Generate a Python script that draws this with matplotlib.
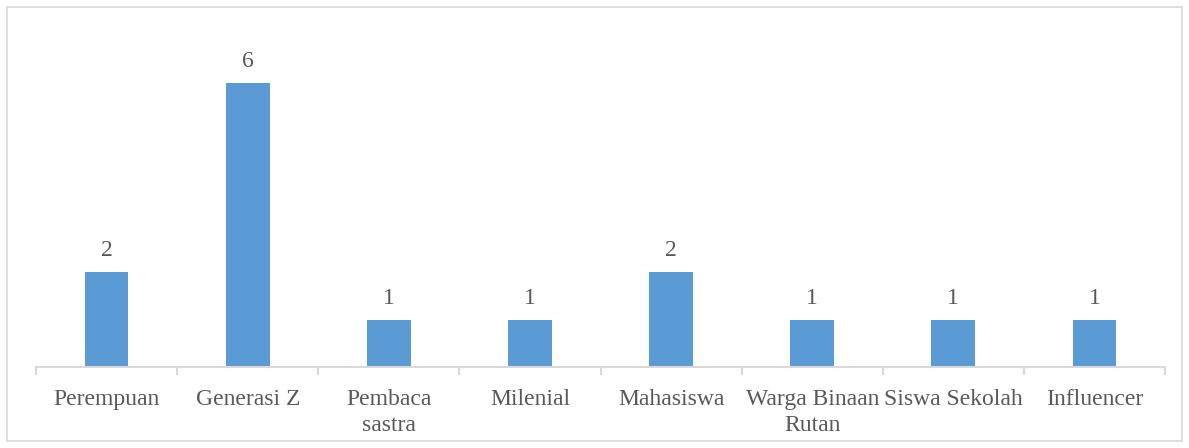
import matplotlib.pyplot as plt
from matplotlib.patches import Rectangle

# categories and counts
categories = ["Perempuan", "Generasi Z", "Pembaca\nsastra", "Milenial",
              "Mahasiswa", "Warga Binaan\nRutan", "Siswa Sekolah", "Influencer"]
counts = [2, 6, 1, 1, 2, 1, 1, 1]

plt.rcParams['font.family'] = ['Liberation Serif', 'DejaVu Serif']
text_color = '#595959'
grid_color = '#D9D9D9'

fig = plt.figure(figsize=(11.89, 4.48), dpi=100)
ax = fig.add_axes([36 / 1189, 81 / 448, 1129 / 1189, (448 - 35.7 - 81) / 448])

x = range(len(categories))
bars = ax.bar(x, counts, width=0.31, color='#5B9BD5')
ax.bar_label(bars, labels=[str(c) for c in counts], padding=8,
             fontsize=17, color=text_color)

ax.set_xlim(-0.5, len(categories) - 0.5)
ax.set_ylim(0, 7)
ax.set_yticks([])
for side in ['top', 'right', 'left']:
    ax.spines[side].set_visible(False)
ax.spines['bottom'].set_color(grid_color)
ax.spines['bottom'].set_linewidth(1.5)

# category ticks sit on the boundaries, labels in the middle
ax.set_xticks([i - 0.5 for i in range(len(categories) + 1)])
ax.set_xticklabels([])
ax.tick_params(axis='x', which='major', direction='out', length=6,
               color=grid_color, width=1.5)
ax.set_xticks(list(x), minor=True)
ax.set_xticklabels(categories, minor=True, fontsize=17, color=text_color,
                   va='top', linespacing=1.3)
ax.tick_params(axis='x', which='minor', length=0, pad=16)

# outer frame
fig.patches.append(Rectangle((7 / 1189, 7 / 448), 1175 / 1189, 434 / 448,
                             transform=fig.transFigure, fill=False,
                             edgecolor=grid_color, linewidth=1.2))

fig.savefig('out.png', dpi=100)
